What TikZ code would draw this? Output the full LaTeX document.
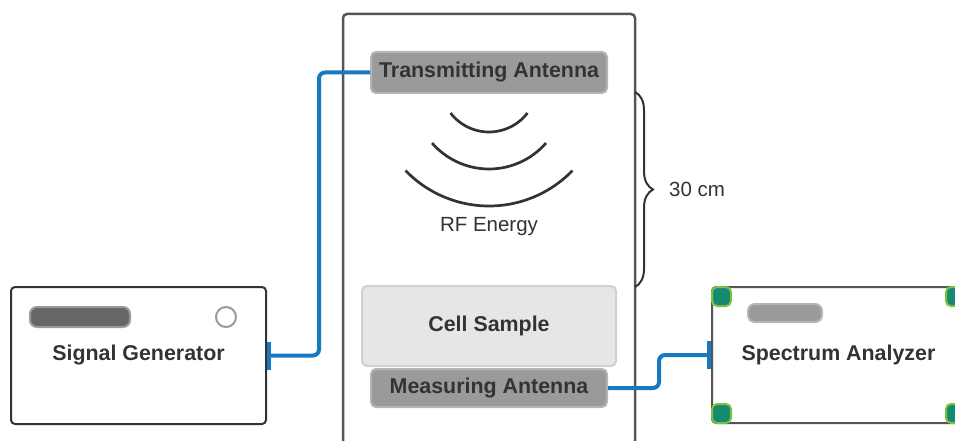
\documentclass[tikz,border=0pt]{standalone}
\usepackage{fontspec}
\setmainfont{Liberation Sans}
\usepackage{xcolor}
\definecolor{mainDark}{HTML}{333333}
\definecolor{frameGray}{HTML}{555555}
\definecolor{antennaFill}{HTML}{9A9A9A}
\definecolor{antennaEdge}{HTML}{B5B5B5}
\definecolor{cellFill}{HTML}{E6E6E6}
\definecolor{cellEdge}{HTML}{D0D0D0}
\definecolor{wireBlue}{HTML}{1779BE}
\definecolor{handleFill}{HTML}{168A70}
\definecolor{handleEdge}{HTML}{7DC142}
\usepackage{tikz}
\usetikzlibrary{positioning,arrows.meta,decorations.pathreplacing}
\newcommand{\labelFont}{\fontsize{20.5}{24}\selectfont}
\newcommand{\titleFont}{\fontsize{21.4}{25}\selectfont\bfseries}
\tikzset{
  chamberBox/.style={
    rectangle,
    rounded corners=4pt,
    draw=frameGray,
    line width=2.5pt,
    minimum width=292pt,
    minimum height=456pt
 },
  antennaBox/.style={
    rectangle,
    rounded corners=5pt,
    draw=antennaEdge,
    fill=antennaFill,
    line width=2pt,
    inner sep=0pt,
    minimum width=236pt,
    text=mainDark,
    font=\titleFont
 },
  cellBox/.style={
    rectangle,
    rounded corners=5pt,
    draw=cellEdge,
    fill=cellFill,
    line width=2pt,
    inner sep=0pt,
    minimum width=254pt,
    minimum height=80pt,
    text=mainDark,
    font=\titleFont
 },
  deviceBox/.style={
    rectangle,
    rounded corners=4pt,
    fill=white,
    line width=2pt,
    inner sep=0pt,
    text=mainDark,
    font=\titleFont
 },
  barBox/.style={
    rectangle,
    rounded corners=7pt,
    line width=2pt,
    inner sep=0pt
 },
  handleBox/.style={
    rectangle,
    rounded corners=5pt,
    draw=handleEdge,
    fill=handleFill,
    line width=2pt,
    inner sep=0pt,
    minimum size=19pt
 },
  wireLine/.style={
    draw=wireBlue,
    line width=4pt,
    rounded corners=6pt
 },
  waveLine/.style={
    draw=mainDark,
    line width=2.7pt
 },
  plainText/.style={
    inner sep=0pt,
    text=mainDark,
    font=\labelFont
 }
}

\begin{document}
\begin{tikzpicture}[x=1pt,y=1pt]
    \useasboundingbox (0,0) rectangle (955,440);

    % exposure chamber
    \node[chamberBox] (chamber) at (489,198) {};

    % antennas and sample
    \node[antennaBox, minimum height=41pt] (txAnt) at (489,367.5) {Transmitting Antenna};
    \node[cellBox] (cell) at (489,114) {Cell Sample};
    \node[antennaBox, minimum height=38pt, below=1pt of cell] (measAnt) {Measuring Antenna};

    % RF waves
    \coordinate (waveC) at (489,350);
    \draw[waveLine] (waveC) ++(0,6.5) ++(217.5:48.5) arc[start angle=217.5, end angle=322.5, radius=48.5];
    \draw[waveLine] (waveC) ++(0,-3.5) ++(221:75.5) arc[start angle=221, end angle=319, radius=75.5];
    \draw[waveLine] (waveC) ++(224:116) arc[start angle=224, end angle=316, radius=116];
    \node[plainText] (rfText) at (489,213) {RF Energy};

    % distance brace
    \coordinate (braceTop) at (635,348);
    \coordinate (braceBot) at (635,153);
    \draw[waveLine, line width=2pt, decorate, decoration={brace,amplitude=18pt}] (braceTop) -- (braceBot);
    \node[plainText, anchor=west] (distText) at (669,251) {30 cm};

    % signal generator
    \node[deviceBox, draw=mainDark, minimum width=255pt, minimum height=137pt] (sigGen) at (138.5,84.5) {Signal Generator};
    \node[barBox, draw=antennaFill, fill=black!60, minimum width=100pt, minimum height=20pt] (sigBar) at (80,123) {};
    \node[circle, draw=antennaFill, line width=2pt, fill=white, minimum size=20pt, inner sep=0pt] (sigKnob) at (226,123) {};

    % spectrum analyzer
    \node[deviceBox, draw=frameGray, minimum width=253pt, minimum height=136pt] (specAn) at (838.5,85) {Spectrum Analyzer};
    \node[barBox, draw=antennaEdge, fill=antennaFill, minimum width=74pt, minimum height=18pt] (specBar) at (785,127) {};
    \foreach \a/\n in {north west/hNW, north east/hNE, south west/hSW, south east/hSE}
        \node[handleBox, anchor=\a] (\n) at (specAn.\a) {};

    % cables
    \draw[wireLine, {Rectangle[length=4pt,width=28pt,line width=0pt]}-] (sigGen.east) -- ++(52,0) |- (txAnt.west);
    \draw[wireLine, -{Rectangle[length=4pt,width=28pt,line width=0pt]}] (measAnt.east) -- ++(51,0) |- (specAn.west);
\end{tikzpicture}
\end{document}
